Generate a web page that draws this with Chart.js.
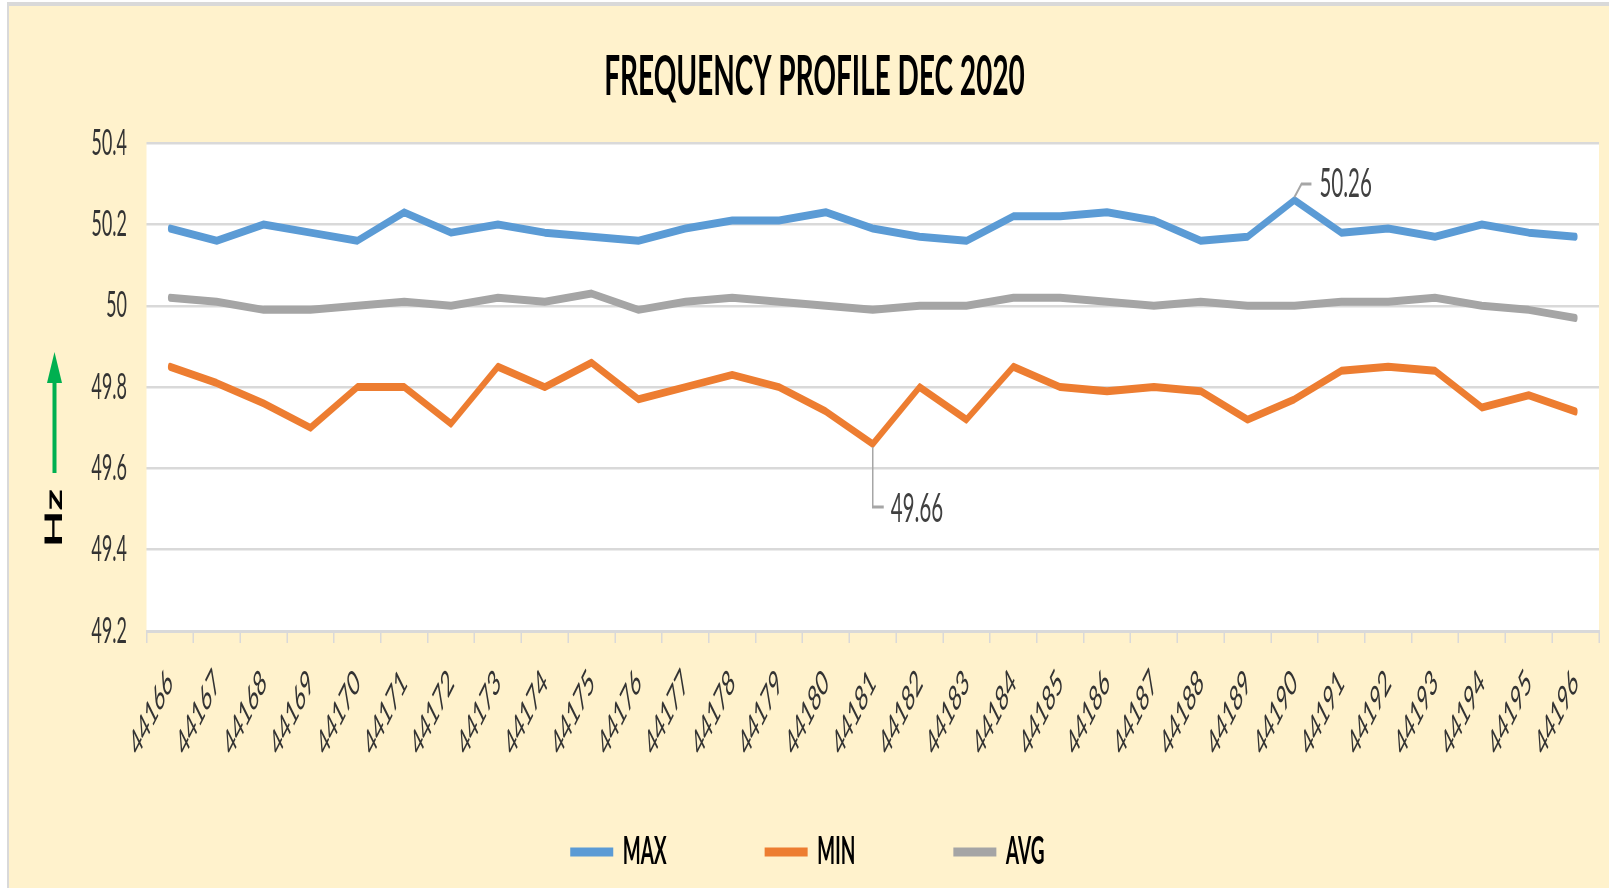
<!DOCTYPE html>
<html>
<head>
<meta charset="utf-8">
<script src="https://cdn.jsdelivr.net/npm/chart.js@4.4.1/dist/chart.umd.min.js"></script>
<style>
  html, body { margin: 0; padding: 0; background: #ffffff; overflow: hidden; }
  /* chart is drawn twice as wide and squeezed, like the reference */
  #freqChart { display: block; width: 1609px !important; height: 888px !important; }
</style>
</head>
<body>
<canvas id="freqChart" width="3218" height="888"></canvas>
<script>
const days = ['44166', '44167', '44168', '44169', '44170', '44171', '44172', '44173', '44174', '44175', '44176',
  '44177', '44178', '44179', '44180', '44181', '44182', '44183', '44184', '44185', '44186',
  '44187', '44188', '44189', '44190', '44191', '44192', '44193', '44194', '44195', '44196'];

const maxValues = [50.19, 50.16, 50.20, 50.18, 50.16, 50.23, 50.18, 50.20, 50.18, 50.17, 50.16,
  50.19, 50.21, 50.21, 50.23, 50.19, 50.17, 50.16, 50.22, 50.22, 50.23,
  50.21, 50.16, 50.17, 50.26, 50.18, 50.19, 50.17, 50.20, 50.18, 50.17];

const minValues = [49.85, 49.81, 49.76, 49.70, 49.80, 49.80, 49.71, 49.85, 49.80, 49.86, 49.77,
  49.80, 49.83, 49.80, 49.74, 49.66, 49.80, 49.72, 49.85, 49.80, 49.79,
  49.80, 49.79, 49.72, 49.77, 49.84, 49.85, 49.84, 49.75, 49.78, 49.74];

const avgValues = [50.02, 50.01, 49.99, 49.99, 50.00, 50.01, 50.00, 50.02, 50.01, 50.03, 49.99,
  50.01, 50.02, 50.01, 50.00, 49.99, 50.00, 50.00, 50.02, 50.02, 50.01,
  50.00, 50.01, 50.00, 50.00, 50.01, 50.01, 50.02, 50.00, 49.99, 49.97];

const yTickLabels = ['49.2', '49.4', '49.6', '49.8', '50', '50.2', '50.4'];

// cream frame + white plot area
const frameBg = {
  id: 'frameBg',
  beforeDraw(chart) {
    const {ctx, width, height, chartArea: a} = chart;
    ctx.save();
    ctx.fillStyle = '#ffffff';
    ctx.fillRect(0, 0, width, height);
    ctx.fillStyle = '#d9d9d9';
    ctx.fillRect(14, 2, width - 14, height - 2);
    ctx.fillStyle = '#fff2cc';
    ctx.fillRect(18, 6, width - 18, height - 6);
    ctx.fillStyle = '#ffffff';
    ctx.fillRect(a.left, a.top, a.right - a.left, a.bottom - a.top);
    ctx.restore();
  }
};

// "Hz" with the green arrow
const unitMark = {
  id: 'unitMark',
  afterDraw(chart) {
    const ctx = chart.ctx;
    const x = 109;
    ctx.save();
    ctx.fillStyle = '#00b050';
    ctx.fillRect(x - 4, 380, 8, 93);
    ctx.beginPath();
    ctx.moveTo(x, 352);
    ctx.lineTo(x - 15, 383);
    ctx.lineTo(x + 15, 383);
    ctx.closePath();
    ctx.fill();
    ctx.translate(x, 518);
    ctx.rotate(-Math.PI / 2);
    ctx.fillStyle = '#000000';
    ctx.font = 'bold 48px Lato';
    ctx.textAlign = 'center';
    ctx.textBaseline = 'middle';
    ctx.fillText('Hz', 0, 0);
    ctx.restore();
  }
};

// labels on the highest MAX and the lowest MIN
const peakLabels = {
  id: 'peakLabels',
  afterDatasetsDraw(chart) {
    const ctx = chart.ctx;
    const iMax = maxValues.indexOf(Math.max(...maxValues));
    const iMin = minValues.indexOf(Math.min(...minValues));
    const pMax = chart.getDatasetMeta(0).data[iMax];
    const pMin = chart.getDatasetMeta(1).data[iMin];
    ctx.save();
    ctx.strokeStyle = '#a6a6a6';
    ctx.lineWidth = 3;
    ctx.beginPath();
    ctx.moveTo(pMax.x, pMax.y - 3);
    ctx.lineTo(pMax.x + 14, pMax.y - 16);
    ctx.lineTo(pMax.x + 34, pMax.y - 16);
    ctx.stroke();
    ctx.beginPath();
    ctx.moveTo(pMin.x, pMin.y + 3);
    ctx.lineTo(pMin.x, pMin.y + 63);
    ctx.lineTo(pMin.x + 22, pMin.y + 63);
    ctx.stroke();
    ctx.fillStyle = '#404040';
    ctx.font = '41px Lato';
    ctx.textAlign = 'left';
    ctx.textBaseline = 'middle';
    ctx.fillText(maxValues[iMax].toFixed(2), pMax.x + 50, pMax.y - 16);
    ctx.fillText(minValues[iMin].toFixed(2), pMin.x + 36, pMin.y + 65);
    ctx.restore();
  }
};

const lineStyle = {
  borderWidth: 8,
  pointRadius: 0,
  pointHoverRadius: 0,
  tension: 0,
  fill: false,
  borderJoinStyle: 'round',
  borderCapStyle: 'round'
};

const ctx = document.getElementById('freqChart');
new Chart(ctx, {
  type: 'line',
  data: {
    labels: days,
    datasets: [
      { label: 'MAX', data: maxValues, borderColor: '#5b9bd5', backgroundColor: '#5b9bd5', ...lineStyle },
      { label: 'MIN', data: minValues, borderColor: '#ed7d31', backgroundColor: '#ed7d31', ...lineStyle },
      { label: 'AVG', data: avgValues, borderColor: '#a5a5a5', backgroundColor: '#a5a5a5', ...lineStyle }
    ]
  },
  options: {
    responsive: false,
    animation: false,
    devicePixelRatio: 1,
    layout: { padding: { left: 60, right: 20, top: 0, bottom: 7 } },
    scales: {
      x: {
        offset: true,
        grid: { offset: true, drawOnChartArea: false, drawTicks: true, tickLength: 12, color: '#d9d9d9', lineWidth: 3 },
        border: { display: true, color: '#d9d9d9', width: 3 },
        ticks: {
          autoSkip: false,
          minRotation: 45,
          maxRotation: 45,
          padding: 18,
          color: '#333333',
          font: { family: 'Lato', size: 36 }
        },
        afterFit(scale) { scale.height = 177; }
      },
      y: {
        min: 49.2,
        max: 50.4,
        grid: { color: '#d9d9d9', lineWidth: 2.5, drawTicks: false },
        border: { display: false },
        ticks: {
          stepSize: 0.2,
          padding: 39,
          color: '#333333',
          font: { family: 'Lato', size: 36 },
          callback: (v, i) => yTickLabels[i]
        },
        afterFit(scale) { scale.width = 233; }
      }
    },
    plugins: {
      title: {
        display: true,
        text: 'FREQUENCY PROFILE DEC 2020',
        color: '#000000',
        font: { family: 'Lato', size: 56, weight: 'bold' },
        padding: { top: 43, bottom: 33 }
      },
      legend: {
        position: 'bottom',
        labels: {
          boxWidth: 86,
          boxHeight: 9,
          padding: 25,
          color: '#000000',
          font: { family: 'Lato', size: 38, weight: 'bold' },
          useBorderRadius: true,
          borderRadius: 4,
          generateLabels(chart) {
            const sets = chart.data.datasets;
            return sets.map((ds, i) => ({
              text: ds.label + '\u2003'.repeat(i < sets.length - 1 ? 6 : 1),
              fillStyle: ds.borderColor,
              strokeStyle: ds.borderColor,
              lineWidth: 0,
              fontColor: '#000000',
              hidden: false,
              datasetIndex: i
            }));
          }
        }
      },
      tooltip: { enabled: false }
    }
  },
  plugins: [frameBg, unitMark, peakLabels]
});
</script>
</body>
</html>
